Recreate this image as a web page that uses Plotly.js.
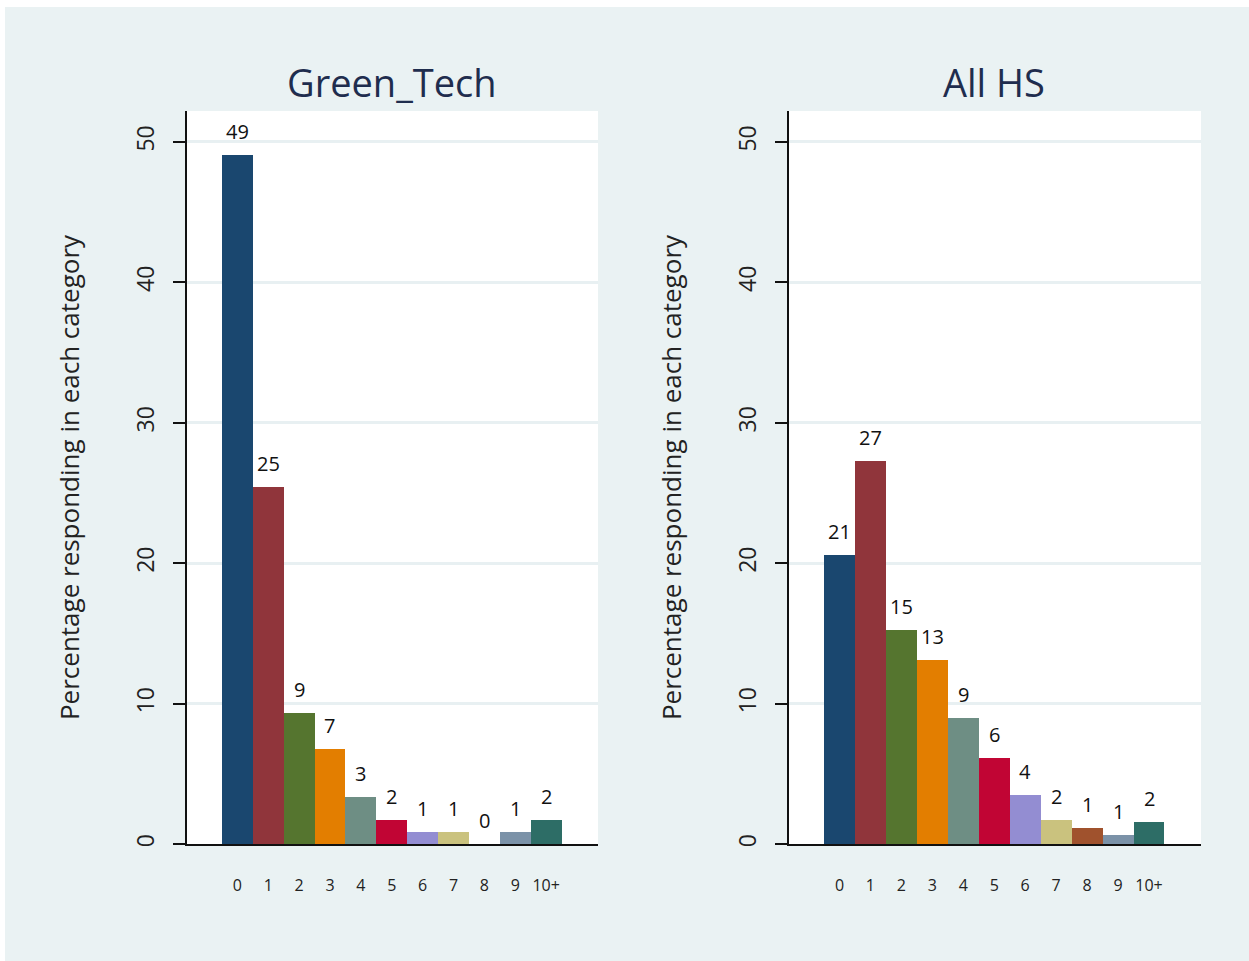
<!DOCTYPE html>
<html>
<head>
<meta charset="utf-8">
<script src="https://cdn.plot.ly/plotly-3.0.1.min.js"></script>
<style>html,body{margin:0;padding:0;background:#fff;}#chart{width:1249px;height:961px;}</style>
</head>
<body>
<div id="chart"></div>
<script>
const categories = ["0","1","2","3","4","5","6","7","8","9","10+"];
const greenTech = [49.1, 25.4, 9.3, 6.8, 3.35, 1.7, 0.82, 0.82, 0, 0.82, 1.7];
const allHS = [20.6, 27.3, 15.25, 13.1, 9.0, 6.15, 3.5, 1.72, 1.15, 0.66, 1.6];
const barColors = ["#1a476f","#90353b","#55752f","#e37e00","#6e8e84","#c10534","#938dd2","#cac27e","#a0522d","#7b92a8","#2d6d66"];
const panelTitles = ["Green_Tech", "All HS"];
const yTitle = "Percentage responding in each category";
const yTicks = [0, 10, 20, 30, 40, 50];

const W = 1249, H = 961;
const FONT = "Open Sans, DejaVu Sans, sans-serif";

function barTrace(vals, xa, ya) {
  return {
    type: "bar",
    x: categories.map((c, i) => i),
    y: vals,
    xaxis: xa, yaxis: ya,
    marker: {color: barColors, line: {width: 0}},
    hoverinfo: "x+y",
    width: 1
  };
}

function labelAnns(vals, xa, ya) {
  return vals.map((v, i) => ({
    xref: xa, yref: ya, x: i, y: v,
    text: String(Math.round(v)),
    showarrow: false, xanchor: "center", yanchor: "bottom", yshift: 8,
    font: {family: FONT, size: 20, color: "#111"}
  }));
}

function xAxis(domainPx, anchor) {
  return {
    domain: [domainPx[0] / W, domainPx[1] / W],
    anchor: anchor,
    range: [-1.63, 11.68],
    tickmode: "array",
    tickvals: categories.map((c, i) => i),
    ticktext: categories,
    ticks: "",
    ticklabelstandoff: 26,
    tickfont: {family: FONT, size: 16, color: "#222"},
    showgrid: false,
    zeroline: false,
    showline: true,
    linecolor: "#111",
    linewidth: 2,
    fixedrange: true
  };
}

function yAxis(anchor) {
  return {
    domain: [(H - 844) / H, (H - 111) / H],
    anchor: anchor,
    range: [0, 52.2],
    tickmode: "array",
    tickvals: yTicks,
    ticktext: yTicks.map(String),
    ticks: "outside",
    ticklen: 12,
    tickwidth: 2,
    tickcolor: "#111",
    tickangle: -90,
    ticklabelstandoff: 10,
    tickfont: {family: FONT, size: 23, color: "#222"},
    showgrid: true,
    gridcolor: "#e8f0f2",
    gridwidth: 3,
    zeroline: false,
    showline: true,
    linecolor: "#111",
    linewidth: 2,
    title: {text: yTitle, font: {family: FONT, size: 26, color: "#222"}, standoff: 42},
    fixedrange: true
  };
}

const data = [barTrace(greenTech, "x", "y"), barTrace(allHS, "x2", "y2")];

const layout = {
  width: W, height: H,
  margin: {l: 0, r: 0, t: 0, b: 0},
  paper_bgcolor: "#eaf2f3",
  plot_bgcolor: "#ffffff",
  showlegend: false,
  bargap: 0,
  xaxis: xAxis([187, 598], "y"),
  yaxis: yAxis("x"),
  xaxis2: xAxis([789, 1201], "y2"),
  yaxis2: yAxis("x2"),
  annotations: [
    {text: panelTitles[0], xref: "paper", yref: "paper", x: 392 / W, y: (H - 82) / H, xanchor: "center", yanchor: "middle", showarrow: false, font: {family: FONT, size: 38, color: "#1f2d4e"}},
    {text: panelTitles[1], xref: "paper", yref: "paper", x: 994 / W, y: (H - 82) / H, xanchor: "center", yanchor: "middle", showarrow: false, font: {family: FONT, size: 38, color: "#1f2d4e"}}
  ].concat(labelAnns(greenTech, "x", "y"), labelAnns(allHS, "x2", "y2")),
  shapes: [
    {type: "rect", xref: "paper", yref: "paper", x0: 0, x1: 1, y0: (H - 7) / H, y1: 1, fillcolor: "#ffffff", line: {width: 0}, layer: "above"},
    {type: "rect", xref: "paper", yref: "paper", x0: 0, x1: 5 / W, y0: 0, y1: 1, fillcolor: "#ffffff", line: {width: 0}, layer: "above"}
  ]
};

Plotly.newPlot("chart", data, layout, {displayModeBar: false, staticPlot: true});
</script>
</body>
</html>
